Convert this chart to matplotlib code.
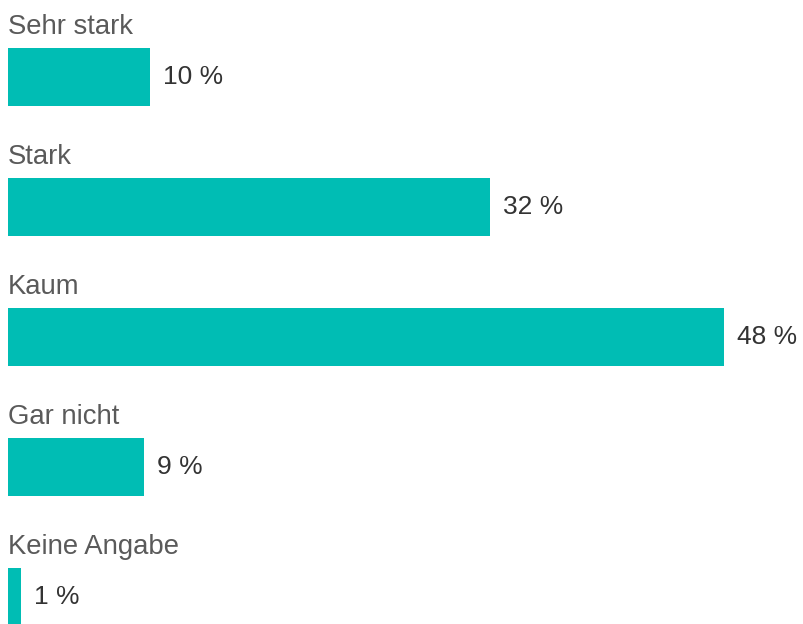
import matplotlib
matplotlib.use("Agg")
import matplotlib.pyplot as plt

categories = ["Sehr stark", "Stark", "Kaum", "Gar nicht", "Keine Angabe"]
values = [9.5, 32.3, 48.0, 9.1, 0.9]
value_labels = ["10 %", "32 %", "48 %", "9 %", "1 %"]

BAR_COLOR = "#00BDB4"
W, H = 804, 624
DPI = 100
px_per_unit = 716 / 48.0
row_px = 130.0

fig = plt.figure(figsize=(W / DPI, H / DPI), dpi=DPI)
ax = fig.add_axes([0, 0, 1, 1])
ax.set_xlim(-8 / px_per_unit, (W - 8) / px_per_unit)
top = -77 / row_px
ax.set_ylim(top + H / row_px, top)
ax.axis("off")

ys = list(range(len(categories)))
ax.barh(ys, values, height=58 / row_px, color=BAR_COLOR, left=0)

font = "Liberation Sans"
for y, cat, v, lab in zip(ys, categories, values, value_labels):
    ax.text(0, y - 43 / row_px, cat, ha="left", va="baseline",
            fontsize=19.8, color="#5a5a5a", family=font)
    ax.text(v + 13 / px_per_unit, y, lab, ha="left", va="center",
            fontsize=19, color="#333333", family=font)

fig.savefig("out.png", dpi=DPI)
